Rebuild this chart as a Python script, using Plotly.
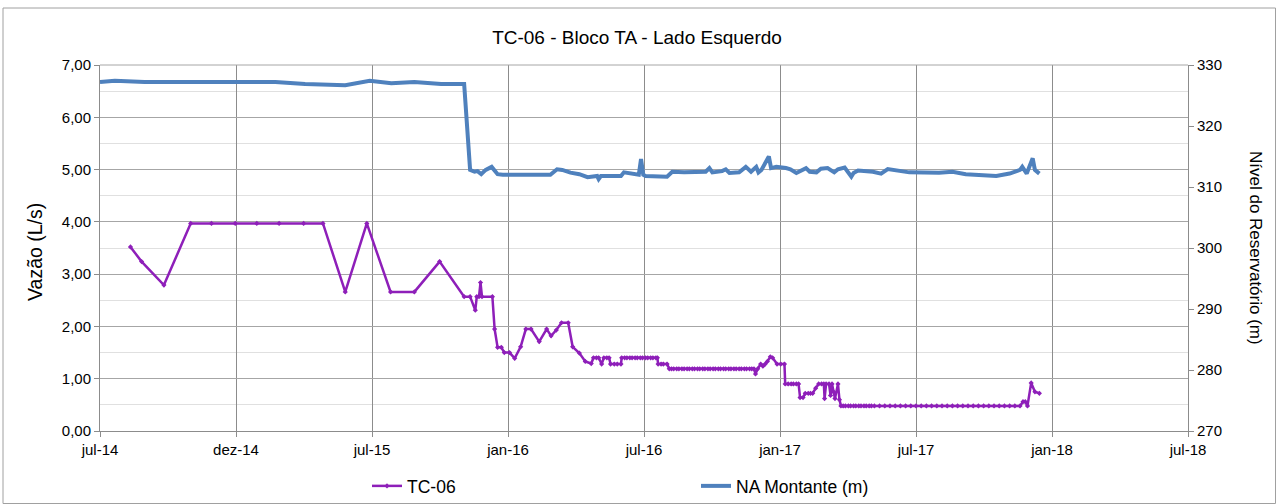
import plotly.graph_objects as go

# ---------------- data ----------------
tc_dates = [
    "2014-08-11", "2014-08-26", "2014-09-25", "2014-10-31", "2014-11-28", "2014-12-30",
    "2015-01-28", "2015-02-27", "2015-04-01", "2015-04-27", "2015-05-27", "2015-06-25",
    "2015-07-27", "2015-08-28", "2015-10-01", "2015-11-03", "2015-11-11", "2015-11-18",
    "2015-11-20", "2015-11-23", "2015-11-25", "2015-11-27", "2015-12-11", "2015-12-14",
    "2015-12-18", "2015-12-23", "2015-12-27", "2016-01-03", "2016-01-10", "2016-01-18",
    "2016-01-25", "2016-02-01", "2016-02-12", "2016-02-22", "2016-02-28", "2016-03-06",
    "2016-03-13", "2016-03-22", "2016-03-28", "2016-04-06", "2016-04-14", "2016-04-22",
    "2016-04-25", "2016-04-29", "2016-05-02", "2016-05-06", "2016-05-09", "2016-05-13",
    "2016-05-16", "2016-05-18", "2016-05-23", "2016-05-27", "2016-06-01", "2016-06-02",
    "2016-06-06", "2016-06-09", "2016-06-13", "2016-06-16", "2016-06-20", "2016-06-23",
    "2016-06-27", "2016-06-30", "2016-07-04", "2016-07-07", "2016-07-11", "2016-07-14",
    "2016-07-18", "2016-07-20", "2016-07-21", "2016-07-25", "2016-07-28", "2016-08-02",
    "2016-08-05", "2016-08-08", "2016-08-11", "2016-08-15", "2016-08-18", "2016-08-22",
    "2016-08-25", "2016-08-29", "2016-09-01", "2016-09-05", "2016-09-08", "2016-09-12",
    "2016-09-15", "2016-09-19", "2016-09-22", "2016-09-26", "2016-09-29", "2016-10-03",
    "2016-10-06", "2016-10-10", "2016-10-13", "2016-10-17", "2016-10-20", "2016-10-24",
    "2016-10-27", "2016-10-31", "2016-11-03", "2016-11-07", "2016-11-10", "2016-11-14",
    "2016-11-17", "2016-11-21", "2016-11-24", "2016-11-27", "2016-11-29", "2016-12-02",
    "2016-12-06", "2016-12-09", "2016-12-12", "2016-12-15", "2016-12-19", "2016-12-22",
    "2016-12-28", "2017-01-02", "2017-01-07", "2017-01-08", "2017-01-12", "2017-01-16",
    "2017-01-19", "2017-01-23", "2017-01-26", "2017-01-28", "2017-02-01", "2017-02-04",
    "2017-02-08", "2017-02-11", "2017-02-14", "2017-02-18", "2017-02-22", "2017-02-26",
    "2017-03-01", "2017-03-02", "2017-03-04", "2017-03-08", "2017-03-10", "2017-03-12",
    "2017-03-14", "2017-03-16", "2017-03-20", "2017-03-22", "2017-03-24", "2017-03-27",
    "2017-03-30", "2017-04-03", "2017-04-06", "2017-04-10", "2017-04-13", "2017-04-17",
    "2017-04-20", "2017-04-24", "2017-04-27", "2017-05-01", "2017-05-04", "2017-05-08",
    "2017-05-15", "2017-05-22", "2017-05-29", "2017-06-05", "2017-06-12", "2017-06-19",
    "2017-06-26", "2017-07-03", "2017-07-10", "2017-07-17", "2017-07-24", "2017-07-31",
    "2017-08-07", "2017-08-14", "2017-08-21", "2017-08-28", "2017-09-04", "2017-09-11",
    "2017-09-18", "2017-09-25", "2017-10-02", "2017-10-09", "2017-10-16", "2017-10-23",
    "2017-10-30", "2017-11-06", "2017-11-13", "2017-11-20", "2017-11-24", "2017-11-27",
    "2017-11-30", "2017-12-05", "2017-12-10", "2017-12-16",
]
tc_values = [
    3.52, 3.24, 2.79, 3.97, 3.97, 3.97,
    3.97, 3.97, 3.97, 3.97, 2.66, 3.97,
    2.66, 2.66, 3.24, 2.57, 2.57, 2.31,
    2.57, 2.57, 2.84, 2.57, 2.57, 1.95,
    1.60, 1.60, 1.50, 1.50, 1.39, 1.61,
    1.95, 1.95, 1.71, 1.95, 1.82, 1.93,
    2.07, 2.07, 1.61, 1.49, 1.33, 1.29,
    1.40, 1.40, 1.40, 1.28, 1.40, 1.40,
    1.40, 1.28, 1.28, 1.28, 1.28, 1.40,
    1.40, 1.40, 1.40, 1.40, 1.40, 1.40,
    1.40, 1.40, 1.40, 1.40, 1.40, 1.40,
    1.40, 1.40, 1.28, 1.28, 1.28, 1.28,
    1.19, 1.19, 1.19, 1.19, 1.19, 1.19,
    1.19, 1.19, 1.19, 1.19, 1.19, 1.19,
    1.19, 1.19, 1.19, 1.19, 1.19, 1.19,
    1.19, 1.19, 1.19, 1.19, 1.19, 1.19,
    1.19, 1.19, 1.19, 1.19, 1.19, 1.19,
    1.19, 1.19, 1.19, 1.19, 1.09, 1.19,
    1.28, 1.24, 1.28, 1.33, 1.42, 1.40,
    1.28, 1.28, 1.28, 0.90, 0.90, 0.90,
    0.90, 0.90, 0.90, 0.64, 0.64, 0.72,
    0.72, 0.72, 0.72, 0.82, 0.90, 0.90,
    0.90, 0.62, 0.90, 0.90, 0.68, 0.90,
    0.75, 0.62, 0.90, 0.60, 0.48, 0.48,
    0.48, 0.48, 0.48, 0.48, 0.48, 0.48,
    0.48, 0.48, 0.48, 0.48, 0.48, 0.48,
    0.48, 0.48, 0.48, 0.48, 0.48, 0.48,
    0.48, 0.48, 0.48, 0.48, 0.48, 0.48,
    0.48, 0.48, 0.48, 0.48, 0.48, 0.48,
    0.48, 0.48, 0.48, 0.48, 0.48, 0.48,
    0.48, 0.48, 0.48, 0.48, 0.56, 0.56,
    0.48, 0.92, 0.75, 0.72,
]

na_dates = [
    "2014-07-01", "2014-07-21", "2014-08-30", "2014-12-29", "2015-02-22", "2015-04-03",
    "2015-05-27", "2015-06-29", "2015-07-28", "2015-08-28", "2015-10-03", "2015-11-03",
    "2015-11-11", "2015-11-17", "2015-11-21", "2015-11-26", "2015-12-02", "2015-12-10",
    "2015-12-18", "2015-12-25", "2016-02-27", "2016-03-07", "2016-03-14", "2016-03-25",
    "2016-04-06", "2016-04-17", "2016-04-30", "2016-05-02", "2016-05-05", "2016-06-01",
    "2016-06-05", "2016-06-25", "2016-06-28", "2016-07-01", "2016-07-04", "2016-08-02",
    "2016-08-09", "2016-08-25", "2016-09-05", "2016-09-23", "2016-09-28", "2016-10-02",
    "2016-10-15", "2016-10-20", "2016-10-25", "2016-11-07", "2016-11-16", "2016-11-23",
    "2016-11-30", "2016-12-03", "2016-12-07", "2016-12-11", "2016-12-17", "2016-12-20",
    "2016-12-27", "2017-01-09", "2017-01-15", "2017-01-23", "2017-02-05", "2017-02-10",
    "2017-02-19", "2017-02-25", "2017-03-06", "2017-03-15", "2017-03-20", "2017-03-29",
    "2017-04-07", "2017-04-10", "2017-04-16", "2017-05-06", "2017-05-17", "2017-05-26",
    "2017-06-06", "2017-06-24", "2017-08-03", "2017-08-21", "2017-09-08", "2017-09-26",
    "2017-10-19", "2017-11-06", "2017-11-20", "2017-11-23", "2017-11-29", "2017-12-07",
    "2017-12-10", "2017-12-16",
]
na_values = [
    327.2, 327.4, 327.2, 327.2, 327.2, 326.9,
    326.7, 327.4, 327.0, 327.2, 326.9, 326.9,
    312.8, 312.5, 312.6, 312.1, 312.8, 313.3,
    312.1, 312.0, 312.0, 312.9, 312.8, 312.35,
    312.1, 311.6, 311.8, 311.3, 311.8, 311.8,
    312.4, 312.0, 314.6, 312.0, 311.8, 311.7,
    312.5, 312.4, 312.5, 312.5, 313.1, 312.4,
    312.6, 312.9, 312.3, 312.4, 313.3, 312.5,
    313.3, 312.4, 312.8, 313.7, 315.0, 313.1,
    313.3, 313.1, 312.9, 312.3, 313.1, 312.5,
    312.4, 313.0, 313.1, 312.4, 312.9, 313.2,
    311.7, 312.3, 312.7, 312.5, 312.2, 312.95,
    312.8, 312.4, 312.35, 312.5, 312.1, 312.0,
    311.8, 312.2, 312.8, 313.3, 312.2, 314.7,
    312.8, 312.2,
]

x_tickvals = ["2014-07-01", "2014-12-31", "2015-07-02", "2016-01-01", "2016-07-02",
              "2017-01-01", "2017-07-03", "2018-01-02", "2018-07-04"]
x_ticktext = ["jul-14", "dez-14", "jul-15", "jan-16", "jul-16",
              "jan-17", "jul-17", "jan-18", "jul-18"]

title_text = "TC-06 - Bloco TA - Lado Esquerdo"
left_title = "Vazão (L/s)"
right_title = "Nível do Reservatório (m)"

# ---------------- figure ----------------
FONT = "Liberation Sans, Arial, sans-serif"
PURPLE = "#8E1FB9"
BLUE = "#4F81BD"

fig = go.Figure()
fig.add_trace(go.Scatter(
    x=tc_dates, y=tc_values, name="TC-06", mode="lines+markers",
    line=dict(color=PURPLE, width=2.5),
    marker=dict(symbol="diamond", size=4, color=PURPLE),
    yaxis="y",
))
fig.add_trace(go.Scatter(
    x=na_dates, y=na_values, name="NA Montante (m)", mode="lines",
    line=dict(color=BLUE, width=4),
    yaxis="y2",
))

L, R, T, B = 100, 88, 65, 73
W, H = 1276, 504
pw = W - L - R
ph = H - T - B

TICKFONT = dict(family=FONT, size=15, color="#000000")

fig.update_layout(
    width=W, height=H,
    margin=dict(l=L, r=R, t=T, b=B, autoexpand=False),
    paper_bgcolor="white", plot_bgcolor="white",
    separators=",.",
    font=dict(family=FONT, size=15, color="#000000"),
    title=dict(text=title_text, x=(637 - L) / pw, xanchor="center", xref="paper",
               y=1 - 37 / H, yref="container", yanchor="middle",
               font=dict(family=FONT, size=19, color="#000000")),
    showlegend=True,
    legend=dict(orientation="h", x=(367 - L) / pw, xanchor="left",
                y=-(486 - 431) / ph, yanchor="middle",
                font=dict(family=FONT, size=17.5, color="#000000"),
                entrywidth=284, entrywidthmode="pixels",
                bgcolor="rgba(0,0,0,0)", itemwidth=30),
    xaxis=dict(
        type="date", range=["2014-07-01", "2018-07-04"],
        tickmode="array", tickvals=x_tickvals, ticktext=x_ticktext,
        showgrid=True, gridcolor="#8C8C8C", gridwidth=1,
        showline=True, linecolor="#8C8C8C", linewidth=1,
        ticks="outside", ticklen=5, tickcolor="#8C8C8C",
        tickfont=TICKFONT, automargin=False,
        zeroline=False, mirror=False,
    ),
    yaxis=dict(
        range=[0, 7], dtick=1, tick0=0, tickformat=".2f",
        showgrid=True, gridcolor="#A6A6A6", gridwidth=1,
        minor=dict(dtick=0.5, showgrid=True, gridcolor="#E0E0E0", gridwidth=1),
        showline=True, linecolor="#8C8C8C", linewidth=1,
        ticks="outside", ticklen=5, tickcolor="#8C8C8C",
        tickfont=TICKFONT, automargin=False,
        zeroline=False,
    ),
    yaxis2=dict(
        range=[270, 330], dtick=10, tick0=270, overlaying="y", side="right",
        showgrid=False, showline=True, linecolor="#8C8C8C", linewidth=1,
        ticks="outside", ticklen=5, tickcolor="#8C8C8C",
        tickfont=TICKFONT, automargin=False,
        zeroline=False,
    ),
)

# axis titles
fig.add_annotation(text=left_title, xref="paper", yref="paper",
                   x=(35 - L) / pw, y=(431 - 252) / ph, textangle=-90,
                   showarrow=False, xanchor="center", yanchor="middle",
                   font=dict(family=FONT, size=19.5, color="#000000"))
fig.add_annotation(text=right_title, xref="paper", yref="paper",
                   x=(1256 - L) / pw, y=(431 - 248) / ph, textangle=90,
                   showarrow=False, xanchor="center", yanchor="middle",
                   font=dict(family=FONT, size=17, color="#000000"))

# top gridline / frame of the plot area
fig.add_shape(type="line", xref="paper", yref="paper", x0=0, x1=1, y0=1, y1=1,
              line=dict(color="#A6A6A6", width=1))
# outer chart border
fig.add_shape(type="rect", xref="paper", yref="paper",
              x0=(3 - L) / pw, x1=(1275.5 - L) / pw,
              y0=(431 - 503.5) / ph, y1=(431 - 8) / ph,
              line=dict(color="#A0A0A0", width=1), fillcolor="rgba(0,0,0,0)",
              layer="below")

fig.write_html("out.html", config={"displayModeBar": False},
               post_script="document.body.style.margin='0px';document.body.style.padding='0px';")
